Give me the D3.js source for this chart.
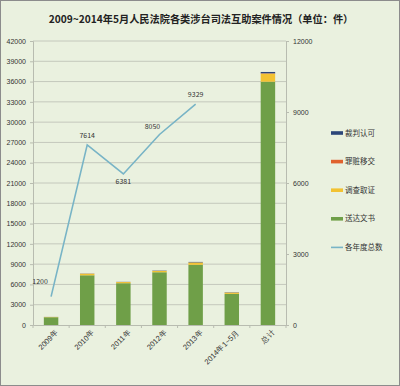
<!DOCTYPE html>
<html>
<head>
<meta charset="utf-8">
<script src="https://cdn.jsdelivr.net/npm/d3@7"></script>
<style>
  body { margin: 0; background: #fff; }
  svg { display: block; font-family: "Noto Sans CJK SC", "Noto Sans", sans-serif; }
</style>
</head>
<body>
<script>
// chart size
var width = 400,
    height = 386;

// data
var categories = ["2009年", "2010年", "2011年", "2012年", "2013年", "2014年1~5月", "总计"];
var seriesNames = ["送达文书", "调查取证", "罪赃移交", "裁判认可"];
var songda = [1150, 7350, 6180, 7800, 8900, 4600, 35980];
var diaocha = [40, 230, 170, 200, 350, 200, 1190];
var zuizang = [5, 14, 11, 10, 9, 6, 55];
var caipan = [5, 20, 20, 40, 70, 40, 195];
var lineName = "各年度总数";
var yearTotals = [1200, 7614, 6381, 8050, 9329];
var leftTicks = d3.range(0, 42001, 3000);
var rightTicks = [0, 3000, 6000, 9000, 12000];

var colors = ["#6f9f48", "#f2c232", "#e0622e", "#2c4679"];
var lineColor = "#78b4c6";

var svg = d3.select("body").append("svg")
    .attr("width", width)
    .attr("height", height);

// background + frame
svg.append("rect")
   .attr("x", 0.5).attr("y", 0.5)
   .attr("width", width - 1).attr("height", height - 1)
   .attr("fill", "#eaf1df")
   .attr("stroke", "#8c8c8c");

svg.append("text")
   .attr("x", 201).attr("y", 23)
   .attr("text-anchor", "middle")
   .attr("font-size", 10.2)
   .attr("font-weight", "bold")
   .attr("fill", "#222")
   .text("2009~2014年5月人民法院各类涉台司法互助案件情况（单位：件）");

var plotLeft = 33, plotRight = 286, plotTop = 41, plotBottom = 325;

var x = d3.scaleBand()
          .domain(categories)
          .range([plotLeft, plotRight])
          .paddingInner(0.6)
          .paddingOuter(0.3);

var yLeft = d3.scaleLinear().domain([0, 42000]).range([plotBottom, plotTop]);
var yRight = d3.scaleLinear().domain([0, 12000]).range([plotBottom, plotTop]);

// gridlines
svg.append("g").selectAll("line")
   .data(leftTicks.slice(1))
   .enter().append("line")
   .attr("x1", plotLeft).attr("x2", plotRight)
   .attr("y1", function(d){ return yLeft(d); })
   .attr("y2", function(d){ return yLeft(d); })
   .attr("stroke", "#c4c8bc")
   .attr("stroke-width", 1);

// left axis
var yAxisL = d3.axisLeft(yLeft).tickValues(leftTicks).tickFormat(d3.format("d")).tickSize(3).tickPadding(4);
var gL = svg.append("g")
   .attr("transform", "translate(" + plotLeft + ",0)")
   .call(yAxisL);
gL.select(".domain").attr("stroke", "#b8bcb0");
gL.selectAll(".tick line").attr("stroke", "#b8bcb0");
gL.selectAll("text").attr("font-size", 7).attr("fill", "#333");

// right axis
var yAxisR = d3.axisRight(yRight).tickValues(rightTicks).tickFormat(d3.format("d")).tickSize(3).tickPadding(4);
var gR = svg.append("g")
   .attr("transform", "translate(" + plotRight + ",0)")
   .call(yAxisR);
gR.select(".domain").attr("stroke", "#b8bcb0");
gR.selectAll(".tick line").attr("stroke", "#b8bcb0");
gR.selectAll("text").attr("font-size", 7).attr("fill", "#333");

// x axis
var step = (plotRight - plotLeft) / categories.length;
var xAxis = d3.axisBottom(x).tickSize(0).tickPadding(6);
var gX = svg.append("g")
   .attr("transform", "translate(0," + plotBottom + ")")
   .call(xAxis);
gX.select(".domain").attr("stroke", "#b8bcb0");
gX.selectAll("text")
   .attr("font-size", 7.5)
   .attr("fill", "#333")
   .attr("text-anchor", "end")
   .attr("dy", "0.3em")
   .attr("transform", "translate(2,2) rotate(-45)");
// category boundary ticks
svg.append("g").selectAll("line")
   .data(d3.range(categories.length + 1))
   .enter().append("line")
   .attr("x1", function(i){ return plotLeft + i * step; })
   .attr("x2", function(i){ return plotLeft + i * step; })
   .attr("y1", plotBottom).attr("y2", plotBottom + 3)
   .attr("stroke", "#b8bcb0");

// stacked bars
var table = categories.map(function(c, i){
  return { cat: c, "送达文书": songda[i], "调查取证": diaocha[i], "罪赃移交": zuizang[i], "裁判认可": caipan[i] };
});
var stack = d3.stack().keys(seriesNames)(table);

svg.append("g").selectAll("g")
   .data(stack)
   .enter().append("g")
   .attr("fill", function(d, i){ return colors[i]; })
   .selectAll("rect")
   .data(function(d){ return d; })
   .enter().append("rect")
   .attr("x", function(d){ return x(d.data.cat); })
   .attr("width", x.bandwidth())
   .attr("y", function(d){ return yLeft(d[1]); })
   .attr("height", function(d){ return yLeft(d[0]) - yLeft(d[1]); });

// total line on right axis
var line = d3.line()
   .x(function(d, i){ return x(categories[i]) + x.bandwidth() / 2; })
   .y(function(d){ return yRight(d); });

svg.append("path")
   .datum(yearTotals)
   .attr("d", line)
   .attr("fill", "none")
   .attr("stroke", lineColor)
   .attr("stroke-width", 1.6);

// data labels
var labelOffset = [[-11, -13], [0, -7], [0, 10], [-7, -5], [0, -7]];
svg.append("g").selectAll("text")
   .data(yearTotals)
   .enter().append("text")
   .attr("x", function(d, i){ return x(categories[i]) + x.bandwidth() / 2 + labelOffset[i][0]; })
   .attr("y", function(d, i){ return yRight(d) + labelOffset[i][1]; })
   .attr("text-anchor", "middle")
   .attr("font-size", 7)
   .attr("fill", "#333")
   .text(function(d){ return d; });

// legend
var legendItems = [
  { name: "裁判认可", color: colors[3], line: false },
  { name: "罪赃移交", color: colors[2], line: false },
  { name: "调查取证", color: colors[1], line: false },
  { name: "送达文书", color: colors[0], line: false },
  { name: lineName, color: lineColor, line: true }
];
var lg = svg.append("g").selectAll("g")
   .data(legendItems)
   .enter().append("g")
   .attr("transform", function(d, i){ return "translate(331," + (133 + i * 28.6) + ")"; });
lg.append("rect")
   .attr("x", 0).attr("width", 12)
   .attr("y", function(d){ return d.line ? -0.8 : -1.8; })
   .attr("height", function(d){ return d.line ? 1.6 : 3.6; })
   .attr("fill", function(d){ return d.color; });
lg.append("text")
   .attr("x", 14).attr("dy", "0.35em")
   .attr("font-size", 7.5)
   .attr("fill", "#333")
   .text(function(d){ return d.name; });
</script>
</body>
</html>
